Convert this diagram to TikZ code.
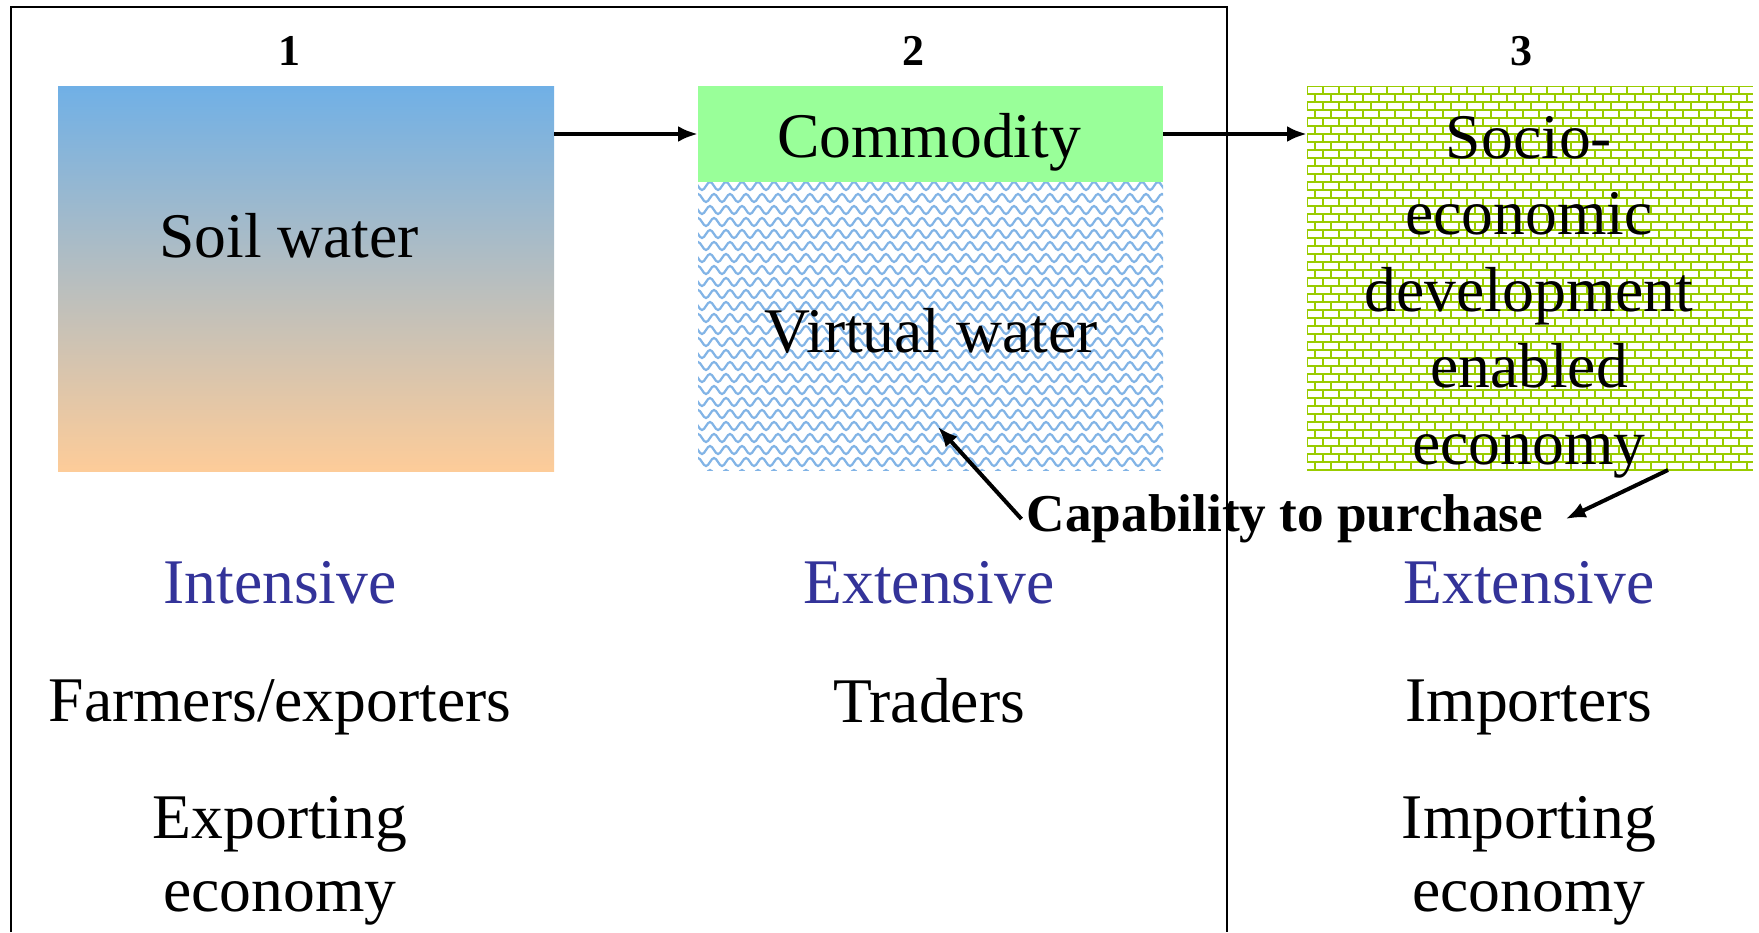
\documentclass[tikz,border=0pt]{standalone}
\usepackage{fontspec}
\setmainfont{Liberation Serif}
\usetikzlibrary{arrows.meta,calc}
\definecolor{bluetext}{RGB}{51,51,153}
\definecolor{sky}{RGB}{112,176,230}
\definecolor{peach}{RGB}{253,204,153}
\definecolor{mint}{RGB}{153,255,153}
\definecolor{wavecol}{RGB}{130,180,230}
\definecolor{brickcol}{RGB}{153,204,0}
\begin{document}
\begin{tikzpicture}[x=0.5pt,y=-0.5pt,
  big/.style={font=\fontsize{31.8}{38.2}\selectfont, align=center, inner sep=0pt},
  bluelabel/.style={big, text=bluetext},
  num/.style={font=\fontsize{22}{26}\selectfont\bfseries, inner sep=0pt},
  boxnode/.style={inner sep=0pt, outer sep=0pt, draw=none},
  arr/.style={line width=2pt, -{Latex[length=10pt,width=8pt]}},
  frame/.style={line width=0.8pt}
]
\useasboundingbox (0,0) rectangle (1759,932);

% frame (open at the bottom)
\draw[frame] (11,932) -- (11,7) -- (1227,7) -- (1227,932);

% boxes
\node[boxnode, top color=sky, bottom color=peach, minimum width=248pt, minimum height=192.5pt] (soil) at (306,278.5) {};
\node[boxnode, fill=mint, minimum width=232.5pt, minimum height=48pt] (comm) at (930.5,134) {};
\node[boxnode, fill=white, minimum width=232.5pt, minimum height=144pt] (virt) at (930.5,326) {};
\node[boxnode, fill=white, minimum width=223pt, minimum height=192pt] (socio) at (1530,278) {};

% wave pattern
\begin{scope}
  \clip (virt.north west) rectangle (virt.south east);
  \foreach \r in {0,...,25} {
    \pgfmathsetmacro{\xs}{690+4*mod(\r,2)}
    \pgfmathsetmacro{\ys}{186+12*\r}
    \draw[wavecol, line width=1.1pt] (\xs,\ys)
      \foreach \k in {0,...,30} { sin ++(4,-4) cos ++(4,4) sin ++(4,4) cos ++(4,-4) };
  }
\end{scope}

% brick pattern
\begin{scope}[brickcol, line width=1pt]
  \clip (socio.north west) rectangle (socio.south east);
  \foreach \k in {0,...,48} { \draw (1307,86+8*\k) -- (1753,86+8*\k); }
  \foreach \k in {0,2,...,48} { \foreach \j in {0,...,28} { \draw (1307+16*\j,86+8*\k) -- ++(0,8); } }
  \foreach \k in {1,3,...,47} { \foreach \j in {0,...,28} { \draw (1315+16*\j,86+8*\k) -- ++(0,8); } }
\end{scope}

% numbers
\node[num] (n1) at (289,51) {1};
\node[num] (n2) at (913,51) {2};
\node[num] (n3) at (1521,51) {3};

% box texts
\node[big] (soiltxt) at (289,236) {Soil water};
\node[big] (commtxt) at (929,142) {Commodity};
\node[big] (virttxt) at (931,331) {Virtual water};
\node[big] (sociotxt) at (1529,297) {Socio-\\economic\\development\\enabled\\economy};

% arrows between boxes
\draw[arr] (soil.east |- comm.west) -- (comm.west);
\draw[arr] (comm.east) -- (socio.west |- comm.east);

% capability
\node[font=\fontsize{26.6}{30}\selectfont\bfseries, inner sep=0pt] (cap) at (1285,519) {Capability to purchase};
\coordinate (vhead) at (938,427);
\coordinate (stail) at (1668,470);
\draw[arr] ($(cap.west)+(-5,0)$) -- (vhead);
\draw[arr] (stail) -- ($(cap.east)+(22,0)$);

% lower labels
\node[bluelabel] (l1) at (280,583) {Intensive};
\node[bluelabel] (l2) at (929,583) {Extensive};
\node[bluelabel] (l3) at (1529,583) {Extensive};
\node[big] (a1) at (280,707) {Farmers/exporters};
\node[big] (a2) at (929,701) {Traders};
\node[big] (a3) at (1529,707) {Importers};
\node[big, font=\fontsize{31.8}{36.5}\selectfont] (e1) at (280,861) {Exporting\\economy};
\node[big, font=\fontsize{31.8}{36.5}\selectfont] (e3) at (1529,861) {Importing\\economy};
\end{tikzpicture}
\end{document}
